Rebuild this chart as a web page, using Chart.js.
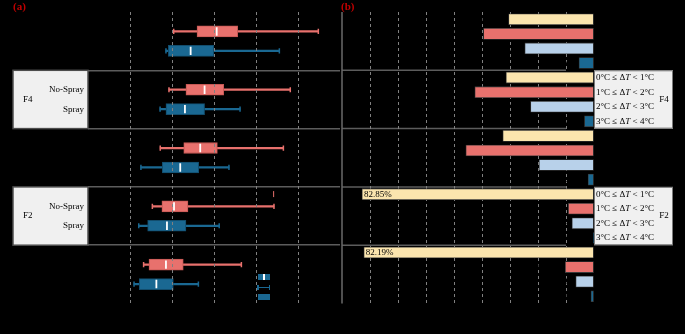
<!DOCTYPE html>
<html>
<head>
<meta charset="utf-8">
<script src="https://cdn.jsdelivr.net/npm/chart.js@4.4.0/dist/chart.umd.min.js"></script>
<style>
  body { margin: 0; background: #000; width: 685px; height: 334px; overflow: hidden; position: relative; font-family: 'Liberation Serif', serif; }
  #wrap-a { position: absolute; left: 0; top: 0; width: 340px; height: 334px; }
  #wrap-b { position: absolute; left: 340px; top: 0; width: 345px; height: 334px; }
  .tag { position: absolute; top: 0; font: bold 11px 'Liberation Serif', serif; color: #c00000; }
  .legend { position: absolute; left: 257px; top: 272px; font-size: 9px; color: #000; }
  .legend .row { position: relative; height: 10px; line-height: 10px; padding-left: 18px; white-space: nowrap; }
  .ico { position: absolute; left: 1px; }
  .ico.box { top: 2px; width: 12px; height: 6px; background: #1a6892; }
  .ico.box i { position: absolute; left: 5px; top: 0; width: 1.5px; height: 6px; background: #fff; }
  .ico.whisk { left: 0; top: 4.5px; width: 13px; height: 1.5px; background: #1a6892; }
  .ico.whisk::before, .ico.whisk::after { content: ''; position: absolute; top: -2px; width: 1.5px; height: 5.5px; background: #1a6892; }
  .ico.whisk::before { left: 0; }
  .ico.whisk::after { right: 0; }
</style>
</head>
<body>
<div id="wrap-a"><canvas id="chart-a"></canvas></div>
<div id="wrap-b"><canvas id="chart-b"></canvas></div>
<div class="tag" style="left:13px">(a)</div>
<div class="tag" style="left:341px">(b)</div>
<div class="legend">
  <div class="row"><span class="ico box"><i></i></span>Mean</div>
  <div class="row"><span class="ico whisk"></span>Min-Max</div>
  <div class="row"><span class="ico box"></span>Mean±Variance</div>
</div>
<script>
const groups = ['F5', 'F4', 'F3', 'F2', 'F1'];
const treatments = ['No-Spray', 'Spray'];
const shadedGroups = ['F4', 'F2'];

// (a) canopy temperature, °C
const noSprayMin  = [27.60, 27.32, 26.80, 26.33, 25.81];
const noSprayLow  = [28.99, 28.33, 28.20, 26.90, 26.13];
const noSprayMean = [30.16, 29.44, 29.18, 27.62, 27.14];
const noSprayHigh = [31.41, 30.58, 30.20, 28.45, 28.17];
const noSprayMax  = [36.21, 34.54, 34.13, 33.57, 31.63];

const sprayMin  = [27.14, 26.79, 25.65, 25.52, 25.24];
const sprayLow  = [27.28, 27.14, 26.92, 26.05, 25.55];
const sprayMean = [28.61, 28.27, 27.99, 27.20, 26.57];
const sprayHigh = [29.98, 29.44, 29.09, 28.33, 27.58];
const sprayMax  = [33.89, 31.55, 30.89, 30.31, 29.07];

const outlierGroup = 'F2';
const outlierTemp = 33.55;

const tempTicks = [22.5, 25, 27.5, 30, 32.5, 35, 37.5];
const tempLabels = [25, 30, 35];

// (b) share of each ΔT class, %
const intervals = ['0°C ≤ ΔT < 1°C', '1°C ≤ ΔT < 2°C', '2°C ≤ ΔT < 3°C', '3°C ≤ ΔT < 4°C'];
const shareF5 = [30.50, 39.45, 24.70, 5.35];
const shareF4 = [31.40, 42.55, 22.65, 3.40];
const shareF3 = [32.55, 45.75, 19.60, 2.10];
const shareF2 = [82.85, 9.15, 7.85, 0.15];
const shareF1 = [82.19, 10.25, 6.50, 1.06];
const pctTicks = [0, 10, 20, 30, 40, 50, 60, 70, 80, 90];
const pctLabels = [20, 40, 60, 80];

const red = '#e8716d', redDark = '#c65854';
const blue = '#1a6892', blueDark = '#124d6d';
const intervalColors = ['#fbe5ae', '#e8716d', '#b8d1ea', '#1a6892'];

Chart.defaults.font.family = '"Liberation Serif", serif';
Chart.defaults.font.size = 9;

// ---------- panel (a) ----------
const slotOf = (g, t) => 3 * g + 1 + t;
const slotValues = [];
for (let i = 0; i <= groups.length * 3; i++) slotValues.push(i);

function span(lo, hi, t) {
    return groups.map((_, g) => ({ x: [lo[g], hi[g]], y: slotOf(g, t) }));
}
function pts(vals, t) {
    return groups.map((_, g) => ({ x: vals[g], y: slotOf(g, t) }));
}

const stripPlugin = {
    id: 'strips',
    beforeDraw(chart) {
        const ctx = chart.ctx, y = chart.scales.y, area = chart.chartArea;
        groups.forEach((name, g) => {
            if (!shadedGroups.includes(name)) return;
            const top = y.getPixelForValue(3 * g), bottom = y.getPixelForValue(3 * g + 3);
            ctx.save();
            ctx.fillStyle = '#f0f0f0';
            ctx.fillRect(13, top, area.left - 13, bottom - top);
            ctx.strokeStyle = '#4d4d4d';
            ctx.lineWidth = 1.5;
            ctx.strokeRect(13, top, area.left - 13, bottom - top);
            ctx.restore();
        });
    },
    afterDraw(chart) {
        const ctx = chart.ctx, y = chart.scales.y;
        ctx.save();
        ctx.fillStyle = '#000';
        ctx.font = '9px "Liberation Serif"';
        ctx.textBaseline = 'middle';
        groups.forEach((name, g) => {
            const mid = (y.getPixelForValue(3 * g) + y.getPixelForValue(3 * g + 3)) / 2;
            ctx.fillText(name, 23, mid);
        });
        ctx.restore();
    }
};

const og = groups.indexOf(outlierGroup);

new Chart(document.getElementById('chart-a'), {
    type: 'bar',
    data: {
        datasets: [
            { type: 'bar', data: span(noSprayMin, noSprayMax, 0), backgroundColor: red, barThickness: 1.6, grouped: false, order: 5 },
            { type: 'bar', data: span(sprayMin, sprayMax, 1), backgroundColor: blue, barThickness: 1.6, grouped: false, order: 5 },
            { type: 'bar', data: span(noSprayLow, noSprayHigh, 0), backgroundColor: red, borderColor: redDark, borderWidth: 1, borderSkipped: false, barThickness: 11, grouped: false, order: 4 },
            { type: 'bar', data: span(sprayLow, sprayHigh, 1), backgroundColor: blue, borderColor: blueDark, borderWidth: 1, borderSkipped: false, barThickness: 11, grouped: false, order: 4 },
            { type: 'scatter', data: pts(noSprayMin, 0).concat(pts(noSprayMax, 0)), pointStyle: 'line', pointRotation: 90, pointRadius: 2.6, pointBorderColor: red, pointBorderWidth: 1.5, order: 3 },
            { type: 'scatter', data: pts(sprayMin, 1).concat(pts(sprayMax, 1)), pointStyle: 'line', pointRotation: 90, pointRadius: 2.6, pointBorderColor: blue, pointBorderWidth: 1.5, order: 3 },
            { type: 'scatter', data: pts(noSprayMean, 0).concat(pts(sprayMean, 1)), pointStyle: 'line', pointRotation: 90, pointRadius: 4.2, pointBorderColor: '#fff', pointBorderWidth: 1.8, order: 1 },
            { type: 'scatter', data: [{ x: outlierTemp, y: 3 * og + 0.37 }], pointStyle: 'line', pointRotation: 90, pointRadius: 3, pointBorderColor: red, pointBorderWidth: 1, order: 2 }
        ]
    },
    options: {
        indexAxis: 'y',
        responsive: true,
        maintainAspectRatio: false,
        animation: false,
        layout: { autoPadding: false, padding: { top: 12, left: 0, right: 0, bottom: 0 } },
        plugins: { legend: { display: false }, tooltip: { enabled: false } },
        scales: {
            x: {
                type: 'linear', min: 22.5, max: 37.5,
                afterBuildTicks: s => { s.ticks = tempTicks.map(v => ({ value: v })); },
                afterFit: s => { s.height = 30.5; s.paddingLeft = 0; s.paddingRight = 0; },
                ticks: { callback: v => tempLabels.includes(v) ? v + '°C' : '', color: '#000', padding: 4, maxRotation: 0, autoSkip: false },
                grid: { z: 1, drawTicks: false, lineWidth: 1, color: c => (c.tick && c.tick.value > 22.5 && c.tick.value < 37.5) ? '#808080' : 'rgba(0,0,0,0)' },
                border: { display: false, dash: [3, 3] }
            },
            y: {
                type: 'linear', reverse: true, min: 0, max: groups.length * 3, offset: false,
                afterBuildTicks: s => { s.ticks = slotValues.map(v => ({ value: v })); },
                afterFit: s => { s.width = 88; s.paddingTop = 0; s.paddingBottom = 0; },
                ticks: { callback: v => (v % 3 === 0 ? '' : treatments[v % 3 - 1]), color: '#000', padding: 4, autoSkip: false },
                grid: { offset: false, drawTicks: false, lineWidth: 1.5, color: c => (c.tick && c.tick.value % 3 === 0 && c.tick.value > 0 && c.tick.value < groups.length * 3) ? '#5c5c5c' : 'rgba(0,0,0,0)' },
                border: { display: false }
            }
        }
    },
    plugins: [stripPlugin]
});

// ---------- panel (b) ----------
const shares = [shareF5, shareF4, shareF3, shareF2, shareF1];
const barLabels = groups.flatMap(g => intervals.map(iv => g + ' ' + iv));
const barValues = shares.flat();
const barColors = barValues.map((_, i) => intervalColors[i % intervals.length]);

function drawInterval(ctx, text, x, y) {
    const parts = text.split('T');
    ctx.font = '9px "Liberation Serif"';
    ctx.fillText(parts[0], x, y);
    x += ctx.measureText(parts[0]).width;
    ctx.font = 'italic 9px "Liberation Serif"';
    ctx.fillText('T', x, y);
    x += ctx.measureText('T').width;
    ctx.font = '9px "Liberation Serif"';
    ctx.fillText(parts[1], x, y);
}

const labelPlugin = {
    id: 'classLabels',
    beforeDraw(chart) {
        const ctx = chart.ctx, x = chart.scales.x, y = chart.scales.y, area = chart.chartArea;
        const half = (y.getPixelForValue(1) - y.getPixelForValue(0)) / 2;
        const n = intervals.length;
        ctx.save();
        groups.forEach((name, g) => {
            const top = y.getPixelForValue(g * n) - half, bottom = y.getPixelForValue(g * n + n - 1) + half;
            if (shadedGroups.includes(name)) {
                ctx.fillStyle = '#f0f0f0';
                ctx.fillRect(area.right, top, 79, bottom - top);
                ctx.strokeStyle = '#7a7a7a';
                ctx.lineWidth = 1;
                ctx.strokeRect(area.right + 0.5, top + 0.5, 78, bottom - top - 1);
            }
            if (g > 0) {
                ctx.strokeStyle = '#5c5c5c';
                ctx.lineWidth = 1.5;
                ctx.beginPath();
                ctx.moveTo(area.left, top);
                ctx.lineTo(x.getPixelForValue(10), top);
                ctx.stroke();
            }
        });
        ctx.strokeStyle = '#6a6a6a';
        ctx.lineWidth = 1.5;
        ctx.beginPath();
        ctx.moveTo(area.left, area.top);
        ctx.lineTo(area.left, area.bottom);
        ctx.stroke();
        ctx.restore();
    },
    afterDraw(chart) {
        const ctx = chart.ctx, y = chart.scales.y, area = chart.chartArea;
        const bars = chart.getDatasetMeta(0).data;
        const n = intervals.length;
        ctx.save();
        ctx.fillStyle = '#000';
        ctx.textBaseline = 'middle';
        bars.forEach((bar, i) => {
            const v = barValues[i];
            ctx.font = '9px "Liberation Serif"';
            if (v > 50) {
                ctx.textAlign = 'left';
                ctx.fillText(v.toFixed(2) + '%', bar.x + 2, bar.y);
            } else {
                ctx.textAlign = 'right';
                ctx.fillText(v.toFixed(2) + '%', bar.x - 4, bar.y);
            }
            ctx.textAlign = 'left';
            drawInterval(ctx, intervals[i % n], area.right + 2, y.getPixelForValue(i));
        });
        ctx.font = '9px "Liberation Serif"';
        ctx.textAlign = 'center';
        groups.forEach((name, g) => {
            const mid = (y.getPixelForValue(g * n) + y.getPixelForValue(g * n + n - 1)) / 2;
            ctx.fillText(name, area.right + 70, mid);
        });
        ctx.restore();
    }
};

new Chart(document.getElementById('chart-b'), {
    type: 'bar',
    data: {
        labels: barLabels,
        datasets: [{
            data: barValues,
            backgroundColor: barColors,
            borderColor: '#3a3a3a',
            borderWidth: 0.8,
            borderSkipped: false,
            barThickness: 11
        }]
    },
    options: {
        indexAxis: 'y',
        responsive: true,
        maintainAspectRatio: false,
        animation: false,
        layout: { padding: { top: 12, left: 2, right: 0, bottom: 0 } },
        plugins: { legend: { display: false }, tooltip: { enabled: false } },
        scales: {
            x: {
                type: 'linear', reverse: true, min: 0, max: 90,
                afterBuildTicks: s => { s.ticks = pctTicks.map(v => ({ value: v })); },
                afterFit: s => { s.height = 30.5; },
                ticks: { callback: v => pctLabels.includes(v) ? v + '%' : '', color: '#000', padding: 4, maxRotation: 0, autoSkip: false },
                grid: { drawTicks: false, lineWidth: 1, color: c => (c.tick && c.tick.value > 0 && c.tick.value < 90) ? '#808080' : 'rgba(0,0,0,0)' },
                border: { display: false, dash: [3, 3] }
            },
            y: {
                type: 'category', position: 'right', offset: true,
                afterFit: s => { s.width = 91; },
                ticks: { display: false },
                grid: { display: false },
                border: { display: false }
            }
        }
    },
    plugins: [labelPlugin]
});
</script>
</body>
</html>
